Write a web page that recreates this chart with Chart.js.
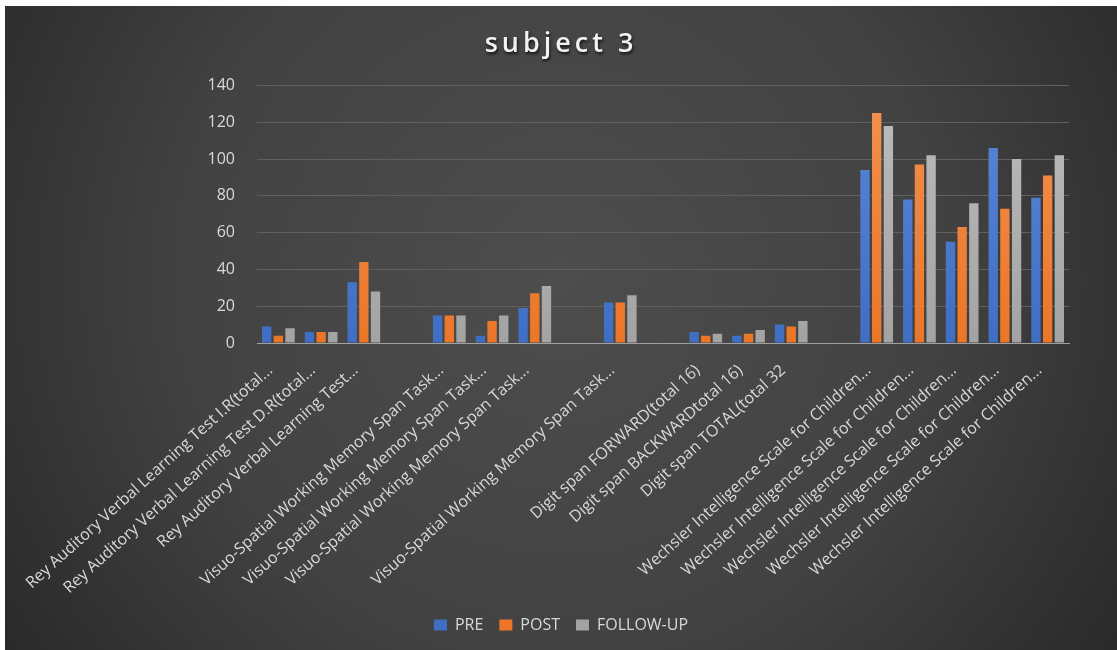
<!DOCTYPE html>
<html>
<head>
<meta charset="utf-8">
<title>subject 3</title>
<script src="https://cdn.jsdelivr.net/npm/chart.js@4.4.1/dist/chart.umd.min.js"></script>
<style>
  html, body { margin: 0; padding: 0; background: #fff; }
  #wrap { position: absolute; left: 5px; top: 6px; width: 1112px; height: 644px; }
</style>
</head>
<body>
<div id="wrap"><canvas id="chart"></canvas></div>
<script>
// test names (empty strings are spacer slots between test groups)
const categories = [
  'Rey Auditory Verbal Learning Test I.R(total...',
  'Rey Auditory Verbal Learning Test D.R(total...',
  'Rey Auditory Verbal Learning Test...',
  '',
  'Visuo-Spatial Working Memory Span Task...',
  'Visuo-Spatial Working Memory Span Task...',
  'Visuo-Spatial Working Memory Span Task...',
  '',
  'Visuo-Spatial Working Memory Span Task...',
  '',
  'Digit span FORWARD(total 16)',
  'Digit span BACKWARDtotal 16)',
  'Digit span TOTAL(total 32',
  '',
  'Wechsler Intelligence Scale for Children...',
  'Wechsler Intelligence Scale for Children...',
  'Wechsler Intelligence Scale for Children...',
  'Wechsler Intelligence Scale for Children...',
  'Wechsler Intelligence Scale for Children...'
];

const pre      = [9, 6, 33, null, 15, 4, 19, null, 22, null, 6, 4, 10, null, 94, 78, 55, 106, 79];
const post     = [4, 6, 44, null, 15, 12, 27, null, 22, null, 4, 5, 9, null, 125, 97, 63, 73, 91];
const followUp = [8, 6, 28, null, 15, 15, 31, null, 26, null, 5, 7, 12, null, 118, 102, 76, 100, 102];

const seriesNames = ['PRE', 'POST', 'FOLLOW-UP'];
const yMin = 0;
const yMax = 140;
const yStep = 20;

const FONT = 'Open Sans';
const TEXT = '#d9d9d9';

// light-to-dark vertical fill for each series
function barFill(top, bottom) {
  return (c) => {
    const area = c.chart.chartArea;
    if (!area) return bottom;
    const g = c.chart.ctx.createLinearGradient(0, area.top, 0, area.bottom);
    g.addColorStop(0, top);
    g.addColorStop(1, bottom);
    return g;
  };
}

// dark radial backdrop behind everything
const backdrop = {
  id: 'backdrop',
  beforeDraw(chart) {
    const { ctx, width, height } = chart;
    const g = ctx.createRadialGradient(width * 0.5, height * 0.42, 0, width * 0.5, height * 0.42, width * 0.62);
    g.addColorStop(0, '#4d4d4d');
    g.addColorStop(0.55, '#424242');
    g.addColorStop(1, '#282828');
    ctx.save();
    ctx.fillStyle = g;
    ctx.fillRect(0, 0, width, height);
    ctx.restore();
  }
};

// spaced-out title with a soft drop shadow
const titleStyle = {
  id: 'titleStyle',
  beforeDraw(chart) {
    const block = chart.titleBlock;
    if (!block || block._styled) return;
    const draw = block.draw.bind(block);
    block.draw = function () {
      const ctx = this.ctx;
      ctx.save();
      ctx.letterSpacing = '4px';
      ctx.shadowColor = 'rgba(0,0,0,0.75)';
      ctx.shadowOffsetX = 1;
      ctx.shadowOffsetY = 2;
      ctx.shadowBlur = 3;
      draw();
      ctx.restore();
    };
    block._styled = true;
  }
};

new Chart(document.getElementById('chart'), {
  type: 'bar',
  data: {
    labels: categories,
    datasets: [
      { label: seriesNames[0], data: pre, backgroundColor: barFill('#5b88d8', '#3f6ec3') },
      { label: seriesNames[1], data: post, backgroundColor: barFill('#f39150', '#eb7628') },
      { label: seriesNames[2], data: followUp, backgroundColor: barFill('#bdbdbd', '#a3a3a3') }
    ]
  },
  options: {
    responsive: true,
    maintainAspectRatio: false,
    animation: false,
    datasets: { bar: { barPercentage: 0.8, categoryPercentage: 0.82 } },
    layout: { padding: { left: 0, right: 0, top: 0, bottom: 7 } },
    plugins: {
      title: {
        display: true,
        text: 'subject 3',
        color: '#f2f2f2',
        font: { family: FONT, size: 27, weight: '600' },
        padding: { top: 22, bottom: 25 }
      },
      legend: {
        position: 'bottom',
        labels: {
          color: TEXT,
          font: { family: FONT, size: 16 },
          boxWidth: 13,
          boxHeight: 11,
          padding: 16
        }
      },
      tooltip: { enabled: false }
    },
    scales: {
      x: {
        grid: { display: false },
        border: { color: '#a0a0a0', width: 1 },
        ticks: {
          autoSkip: false,
          minRotation: 42,
          maxRotation: 42,
          color: TEXT,
          font: { family: FONT, size: 16 },
          padding: 10,
          labelOffset: -8
        },
        afterFit: (s) => { s.height = 258; }
      },
      y: {
        min: yMin,
        max: yMax,
        ticks: {
          stepSize: yStep,
          color: TEXT,
          font: { family: FONT, size: 16 },
          padding: 22
        },
        grid: { color: '#606060', drawTicks: false },
        border: { display: false },
        afterFit: (s) => { s.width = 252; }
      },
      // empty right-hand margin so the plot stops short of the edge
      yRight: {
        position: 'right',
        min: yMin,
        max: yMax,
        ticks: { display: false },
        grid: { display: false, drawTicks: false },
        border: { display: false },
        afterFit: (s) => { s.width = 48; }
      }
    }
  },
  plugins: [backdrop, titleStyle]
});
</script>
</body>
</html>
